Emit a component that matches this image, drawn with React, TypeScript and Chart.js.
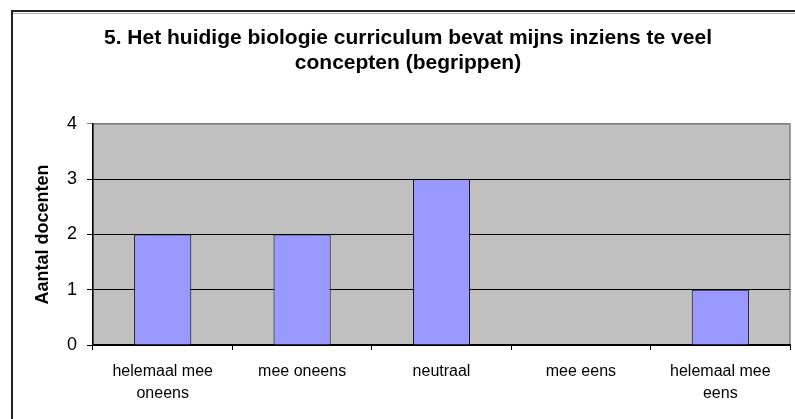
import React, { useEffect, useRef } from "react";
import { Chart, registerables } from "chart.js";

Chart.register(...registerables);

const categories: string[][] = [
  ["helemaal mee", "oneens"],
  ["mee oneens"],
  ["neutraal"],
  ["mee eens"],
  ["helemaal mee", "eens"],
];
const counts: number[] = [2, 2, 3, 0, 1];
const yTicks: number[] = [0, 1, 2, 3, 4];
const titleLines: string[] = [
  "5. Het huidige biologie curriculum bevat mijns inziens te veel",
  "concepten (begrippen)",
];
const yTitle = "Aantal docenten";

const FONT = "'Liberation Sans', Arial, sans-serif";

const framePlugin = {
  id: "framePlugin",
  beforeDraw(chart: any) {
    const { ctx, chartArea } = chart;
    ctx.save();
    ctx.fillStyle = "#ffffff";
    ctx.fillRect(0, 0, chart.width, chart.height);
    // outer frame
    ctx.strokeStyle = "#b0b0b0";
    ctx.lineWidth = 1;
    ctx.beginPath();
    ctx.moveTo(13, 13.5);
    ctx.lineTo(chart.width, 13.5);
    ctx.stroke();
    ctx.strokeStyle = "#222222";
    ctx.lineWidth = 2;
    ctx.beginPath();
    ctx.moveTo(12, chart.height);
    ctx.lineTo(12, 11);
    ctx.lineTo(chart.width, 11);
    ctx.stroke();
    // plot area
    ctx.fillStyle = "#c0c0c0";
    ctx.fillRect(chartArea.left, chartArea.top, chartArea.right - chartArea.left, chartArea.bottom - chartArea.top);
    ctx.strokeStyle = "#808080";
    ctx.lineWidth = 1.5;
    ctx.strokeRect(chartArea.left, chartArea.top, chartArea.right - chartArea.left, chartArea.bottom - chartArea.top);
    ctx.restore();
  },
};

function BarChart() {
  const ref = useRef<HTMLCanvasElement | null>(null);
  useEffect(() => {
    if (!ref.current) return;
    const chart = new Chart(ref.current, {
      type: "bar",
      data: {
        labels: categories,
        datasets: [
          {
            data: counts,
            backgroundColor: "#9999ff",
            borderColor: "#000000",
            borderWidth: 1,
            barPercentage: 0.41,
            categoryPercentage: 1,
          },
        ],
      },
      options: {
        responsive: false,
        animation: false,
        layout: { padding: { left: 26, right: 5, top: 0, bottom: 0 } },
        plugins: {
          legend: { display: false },
          tooltip: { enabled: false },
          title: {
            display: true,
            text: titleLines,
            color: "#000000",
            font: { family: FONT, size: 21, weight: "bold", lineHeight: 1.19 },
            padding: { top: 25.5, bottom: 48.5 },
          },
        },
        scales: {
          x: {
            grid: {
              display: true,
              drawOnChartArea: false,
              drawTicks: true,
              tickLength: 5,
              offset: true,
              color: "#000000",
            },
            border: { display: true, color: "#000000", width: 1.5 },
            ticks: {
              color: "#000000",
              font: { family: FONT, size: 16, lineHeight: 1.4 },
              padding: 10,
              maxRotation: 0,
              autoSkip: false,
            },
            afterFit(scale: any) {
              scale.height = 74;
            },
          },
          y: {
            min: 0,
            max: 4,
            afterBuildTicks(scale: any) {
              scale.ticks = yTicks.map((v) => ({ value: v }));
            },
            grid: {
              color: (c: any) => (c.tick && c.tick.value === 4 ? "#808080" : "#000000"),
              lineWidth: 1,
              drawTicks: true,
              tickLength: 6,
            },
            border: { display: true, color: "#000000", width: 1.5 },
            ticks: {
              color: "#000000",
              font: { family: FONT, size: 18 },
              padding: 10,
            },
            title: {
              display: true,
              text: yTitle,
              color: "#000000",
              font: { family: FONT, size: 18, weight: "bold", lineHeight: 1.2 },
              padding: { top: 6 },
            },
            afterFit(scale: any) {
              scale.width = 67;
            },
          },
        },
      },
      plugins: [framePlugin],
    });
    return () => chart.destroy();
  }, []);
  return <canvas ref={ref} width={795} height={419} style={{ display: "block" }} />;
}

export default function App() {
  return (
    <div style={{ position: "absolute", left: 0, top: 0, width: 795, height: 419, background: "#fff" }}>
      <BarChart />
    </div>
  );
}
